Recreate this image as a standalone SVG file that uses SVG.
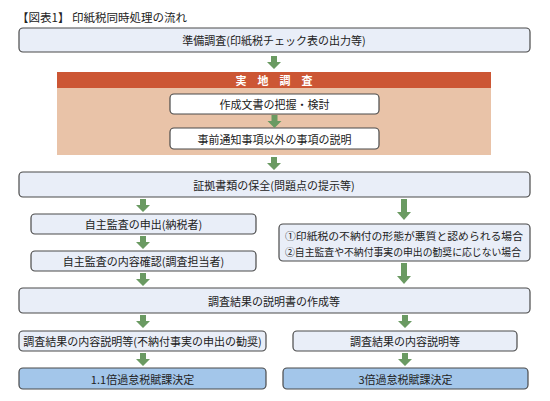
<svg xmlns="http://www.w3.org/2000/svg" width="550" height="401" viewBox="0 0 550 401">
<defs>
<style>
text{font-family:"Noto Sans CJK JP","Noto Sans",sans-serif;font-size:11px;fill:#222;}
.c{text-anchor:middle;dominant-baseline:central;}
.box{fill:#e9eef8;stroke:#4a4a4a;stroke-width:1.2;}
.wbox{fill:#ffffff;stroke:#4a4a4a;stroke-width:1.2;}
.fin{fill:#a3c6ea;stroke:#4a4a4a;stroke-width:1.2;}
.arr{fill:#6a9a62;}
</style>
<path id="a12" d="M-3,0 H3 V6 H7 L0,13 L-7,6 H-3 Z"/>
<path id="a20" d="M-3,0 H3 V13 H7 L0,21 L-7,13 H-3 Z"/>
</defs>
<rect width="550" height="401" fill="#ffffff"/>
<text x="17" y="22" style="font-size:11.5px">【図表1】 印紙税同時処理の流れ</text>

<g id="jisshi">
<rect x="57" y="88" width="434" height="67" fill="#e9c3a8"/>
<rect x="57" y="72" width="434" height="16" fill="#cc5634"/>
<text class="c" x="274" y="80" style="fill:#fff;font-weight:bold;" xml:space="preserve">実　地　調　査</text>
</g>

<g id="n1"><rect class="box" x="19" y="28" width="511" height="24" rx="4"/><text class="c" x="274" y="40">準備調査(印紙税チェック表の出力等)</text></g>
<g id="n2"><rect class="wbox" x="170" y="94" width="209" height="20" rx="4"/><text class="c" x="274.5" y="104">作成文書の把握・検討</text></g>
<g id="n3"><rect class="wbox" x="170" y="128" width="209" height="21" rx="4"/><text class="c" x="274.5" y="138.5">事前通知事項以外の事項の説明</text></g>
<g id="n4"><rect class="box" x="19" y="172" width="511" height="25" rx="4"/><text class="c" x="274" y="184.5">証拠書類の保全(問題点の提示等)</text></g>
<g id="n5"><rect class="box" x="31" y="214" width="225" height="20" rx="4"/><text class="c" x="143.5" y="224">自主監査の申出(納税者)</text></g>
<g id="n6"><rect class="box" x="31" y="251" width="225" height="20" rx="4"/><text class="c" x="143.5" y="261">自主監査の内容確認(調査担当者)</text></g>
<g id="n7"><rect class="box" x="279" y="224" width="251" height="37" rx="4"/>
<text x="285" y="235" dominant-baseline="central" style="font-size:10.5px" textLength="238" lengthAdjust="spacingAndGlyphs">①印紙税の不納付の形態が悪質と認められる場合</text>
<text x="285" y="251" dominant-baseline="central" style="font-size:10.5px" textLength="236" lengthAdjust="spacingAndGlyphs">②自主監査や不納付事実の申出の勧奨に応じない場合</text></g>
<g id="n8"><rect class="box" x="19" y="288" width="511" height="25" rx="4"/><text class="c" x="274" y="300.5">調査結果の説明書の作成等</text></g>
<g id="n9"><rect class="box" x="19" y="331" width="247" height="20" rx="4"/><text class="c" x="142.5" y="341">調査結果の内容説明等(不納付事実の申出の勧奨)</text></g>
<g id="n10"><rect class="box" x="293" y="331" width="224" height="20" rx="4"/><text class="c" x="405" y="341">調査結果の内容説明等</text></g>
<g id="n11"><rect class="fin" x="19" y="368" width="247" height="21" rx="4"/><text class="c" x="142.5" y="378.5">1.1倍過怠税賦課決定</text></g>
<g id="n12"><rect class="fin" x="283" y="368" width="245" height="21" rx="4"/><text class="c" x="405.5" y="378.5">3倍過怠税賦課決定</text></g>

<g id="connectors" class="arr">
<use href="#a12" x="274" y="56"/>
<use href="#a12" x="274.5" y="115"/>
<use href="#a12" x="274" y="157"/>
<use href="#a12" x="143" y="199"/>
<use href="#a20" x="404" y="199"/>
<use href="#a12" x="143" y="236"/>
<use href="#a12" x="143" y="273"/>
<use href="#a20" x="404" y="263"/>
<use href="#a12" x="143" y="315"/>
<use href="#a12" x="405" y="315"/>
<use href="#a12" x="143" y="353"/>
<use href="#a12" x="405" y="353"/>
</g>
</svg>
